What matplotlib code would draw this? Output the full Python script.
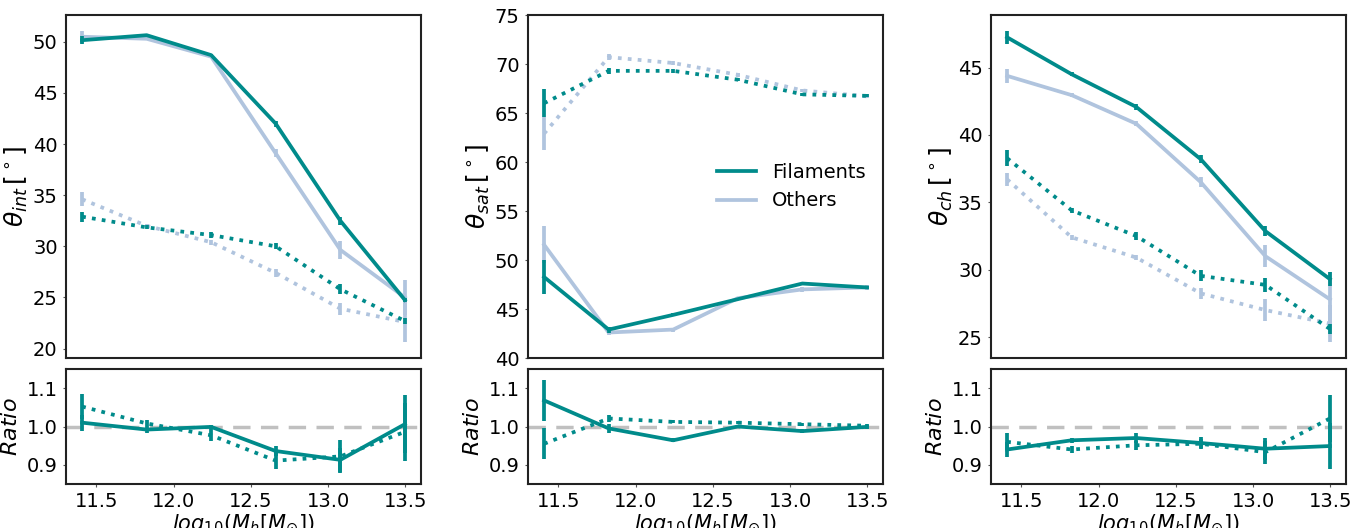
import matplotlib
matplotlib.use("Agg")
import matplotlib.pyplot as plt
import numpy as np

# ---------------- data ----------------
mass = [11.407, 11.825, 12.243, 12.661, 13.080, 13.498]

# theta_int
int_fil_solid = [50.16, 50.65, 48.70, 42.00, 32.50, 24.75]
int_fil_solid_err = [0.40, 0.15, 0.10, 0.30, 0.40, 0.15]
int_oth_solid = [50.50, 50.30, 48.55, 39.10, 29.65, 25.00]
int_oth_solid_err = [0.60, 0.15, 0.15, 0.40, 0.90, 1.70]
int_fil_dot = [32.90, 31.85, 31.10, 30.00, 25.80, 22.70]
int_fil_dot_err = [0.50, 0.20, 0.30, 0.30, 0.50, 0.30]
int_oth_dot = [34.60, 32.00, 30.40, 27.40, 23.90, 22.60]
int_oth_dot_err = [0.70, 0.20, 0.25, 0.40, 0.60, 2.00]

# theta_sat
sat_fil_solid = [48.26, 42.90, 44.40, 46.00, 47.60, 47.20]
sat_fil_solid_err = [1.70, 0.30, 0.15, 0.10, 0.10, 0.15]
sat_oth_solid = [51.55, 42.60, 42.90, 46.10, 47.00, 47.20]
sat_oth_solid_err = [1.90, 0.25, 0.20, 0.15, 0.25, 0.30]
sat_fil_dot = [66.00, 69.30, 69.30, 68.40, 66.90, 66.75]
sat_fil_dot_err = [1.40, 0.30, 0.20, 0.15, 0.15, 0.15]
sat_oth_dot = [62.90, 70.70, 70.10, 68.90, 67.30, 66.70]
sat_oth_dot_err = [1.70, 0.30, 0.20, 0.20, 0.20, 0.20]

# theta_ch
ch_fil_solid = [47.24, 44.50, 42.08, 38.20, 32.86, 29.30]
ch_fil_solid_err = [0.50, 0.15, 0.20, 0.30, 0.40, 0.50]
ch_oth_solid = [44.38, 42.95, 40.83, 36.50, 31.00, 27.80]
ch_oth_solid_err = [0.50, 0.15, 0.20, 0.40, 0.80, 2.00]
ch_fil_dot = [38.27, 34.40, 32.50, 29.54, 28.87, 25.60]
ch_fil_dot_err = [0.60, 0.20, 0.30, 0.40, 0.50, 0.40]
ch_oth_dot = [36.70, 32.40, 30.90, 28.24, 27.00, 26.00]
ch_oth_dot_err = [0.50, 0.20, 0.20, 0.40, 0.80, 1.40]

# ratios (others / filaments)
int_ratio_solid = [1.010, 0.992, 0.999, 0.936, 0.913, 1.006]
int_ratio_solid_err = [0.021, 0.008, 0.006, 0.012, 0.032, 0.076]
int_ratio_dot = [1.052, 1.008, 0.977, 0.911, 0.922, 0.986]
int_ratio_dot_err = [0.032, 0.010, 0.016, 0.023, 0.042, 0.076]

sat_ratio_solid = [1.068, 0.995, 0.964, 1.000, 0.988, 0.999]
sat_ratio_solid_err = [0.053, 0.012, 0.005, 0.005, 0.005, 0.006]
sat_ratio_dot = [0.955, 1.021, 1.012, 1.010, 1.006, 1.002]
sat_ratio_dot_err = [0.040, 0.010, 0.004, 0.004, 0.004, 0.004]

ch_ratio_solid = [0.940, 0.964, 0.970, 0.957, 0.942, 0.949]
ch_ratio_solid_err = [0.020, 0.006, 0.012, 0.015, 0.029, 0.060]
ch_ratio_dot = [0.960, 0.940, 0.951, 0.955, 0.933, 1.021]
ch_ratio_dot_err = [0.022, 0.008, 0.012, 0.012, 0.030, 0.062]

ylabels = [r"$\theta_{int}\,[^\circ]$", r"$\theta_{sat}\,[^\circ]$", r"$\theta_{ch}\,[^\circ]$"]
ratio_ticks = [0.9, 1.0, 1.1]
mass_ticks = [11.5, 12.0, 12.5, 13.0, 13.5]

# ---------------- style ----------------
teal = "#008B8B"
steel = "#B0C4DE"
LW = 2.7

plt.rcParams["font.family"] = ["DejaVu Sans"]
plt.rcParams["mathtext.fontset"] = "dejavusans"

fig = plt.figure(figsize=(13.6, 5.28), dpi=100)

lefts = [66 / 1360, 528 / 1360, 991 / 1360]
width = 355 / 1360
top_b, top_h = (528 - 358) / 528, 343 / 528
bot_b, bot_h = (528 - 484) / 528, 115 / 528

panels = [
    (int_fil_solid, int_fil_solid_err, int_oth_solid, int_oth_solid_err,
     int_fil_dot, int_fil_dot_err, int_oth_dot, int_oth_dot_err,
     int_ratio_solid, int_ratio_solid_err, int_ratio_dot, int_ratio_dot_err),
    (sat_fil_solid, sat_fil_solid_err, sat_oth_solid, sat_oth_solid_err,
     sat_fil_dot, sat_fil_dot_err, sat_oth_dot, sat_oth_dot_err,
     sat_ratio_solid, sat_ratio_solid_err, sat_ratio_dot, sat_ratio_dot_err),
    (ch_fil_solid, ch_fil_solid_err, ch_oth_solid, ch_oth_solid_err,
     ch_fil_dot, ch_fil_dot_err, ch_oth_dot, ch_oth_dot_err,
     ch_ratio_solid, ch_ratio_solid_err, ch_ratio_dot, ch_ratio_dot_err),
]


def style_axes(ax):
    for s in ax.spines.values():
        s.set_linewidth(1.5)
        s.set_color("#222222")
    ax.tick_params(labelsize=14, length=2.5, width=0.8, color="#555555")


for i, data in enumerate(panels):
    (fs, fse, os_, ose, fd, fde, od, ode, rs, rse, rd, rde) = data
    ax = fig.add_axes([lefts[i], top_b, width, top_h])
    axr = fig.add_axes([lefts[i], bot_b, width, bot_h], sharex=ax)

    ax.errorbar(mass, os_, yerr=ose, color=steel, lw=LW, elinewidth=LW, ls="-", label="Others", zorder=2)
    ax.errorbar(mass, od, yerr=ode, color=steel, lw=LW, elinewidth=LW, ls=":", zorder=2)
    ax.errorbar(mass, fs, yerr=fse, color=teal, lw=LW, elinewidth=LW, ls="-", label="Filaments", zorder=3)
    ax.errorbar(mass, fd, yerr=fde, color=teal, lw=LW, elinewidth=LW, ls=":", zorder=3)

    if i == 1:
        ax.set_ylim(40, 75)
        h, l = ax.get_legend_handles_labels()
        order = [l.index("Filaments"), l.index("Others")]
        ax.legend([h[k][0] for k in order], [l[k] for k in order], loc="center right",
                  frameon=False, fontsize=14)
    ax.set_ylabel(ylabels[i], fontsize=18, labelpad=2)
    style_axes(ax)
    ax.tick_params(axis="x", bottom=False, labelbottom=False)

    axr.axhline(1.0, color="#C0C0C0", lw=2.5, ls=(0, (5, 3)), zorder=1)
    axr.errorbar(mass, rs, yerr=rse, color=teal, lw=LW, elinewidth=LW, ls="-", zorder=3)
    axr.errorbar(mass, rd, yerr=rde, color=teal, lw=LW, elinewidth=LW, ls=":", zorder=3)
    axr.set_ylim(0.85, 1.15)
    axr.set_yticks(ratio_ticks)
    axr.set_ylabel(r"$Ratio$", fontsize=16)
    axr.set_xlabel(r"$log_{10}(M_h[M_{\odot}])$", fontsize=15, labelpad=1)
    style_axes(axr)
    axr.set_xticks(mass_ticks)

fig.savefig("out.png", dpi=100)
